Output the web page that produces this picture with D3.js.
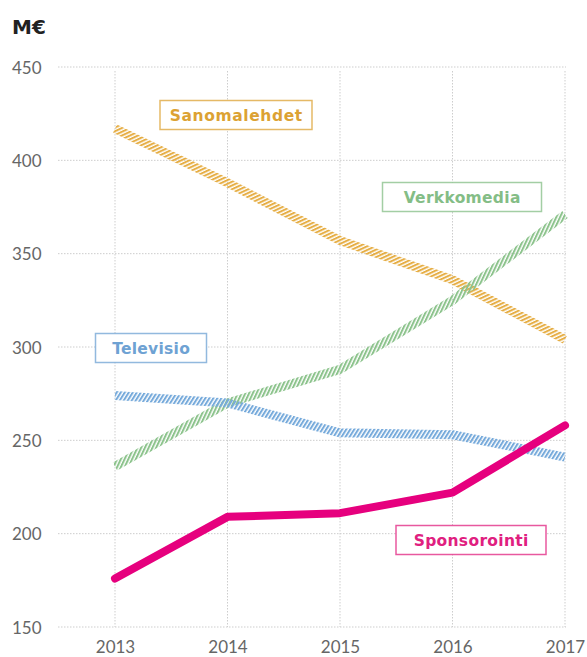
<!DOCTYPE html>
<html><head><meta charset="utf-8">
<script src="https://cdn.jsdelivr.net/npm/d3@7/dist/d3.min.js"></script>
<style>body{margin:0;background:#fff}svg{display:block}</style>
</head><body>
<script>
const years = [2013, 2014, 2015, 2016, 2017];
const yTicks = [150, 200, 250, 300, 350, 400, 450];
const sanomalehdet = [417, 388, 357, 336, 304];
const verkkomedia = [236, 270, 288, 325, 371];
const televisio = [274, 270, 254, 253, 241];
const sponsorointi = [176, 209, 211, 222, 258];
const seriesNames = ["Sanomalehdet", "Verkkomedia", "Televisio", "Sponsorointi"];
const unitLabel = "M€";

const W = 587, H = 657;
const svg = d3.select("body").append("svg").attr("width", W).attr("height", H);
const x = d3.scalePoint().domain(years).range([115, 565]);
const y = d3.scaleLinear().domain([150, 450]).range([627, 67]);
const FONT = "'DejaVu Sans', 'Open Sans', sans-serif";

const series = [
  {name: seriesNames[0], values: sanomalehdet, color: "#E6AE45", text: "#DCA233", angle: 65, hatch: true},
  {name: seriesNames[1], values: verkkomedia, color: "#8CC38C", text: "#84BD86", angle: 25, hatch: true},
  {name: seriesNames[2], values: televisio, color: "#76AADB", text: "#6EA2D3", angle: 32, hatch: true},
  {name: seriesNames[3], values: sponsorointi, color: "#E6007E", text: "#E0207F", hatch: false}
];

const defs = svg.append("defs");
series.filter(s => s.hatch).forEach((s, i) => {
  const p = defs.append("pattern").attr("id", "hatch" + i)
    .attr("patternUnits", "userSpaceOnUse").attr("width", 3.4).attr("height", 10)
    .attr("patternTransform", `rotate(${s.angle})`);
  p.append("rect").attr("x", 0).attr("y", 0).attr("width", 2).attr("height", 10).attr("fill", s.color);
  s.pid = "hatch" + i;
});

// grid
const grid = svg.append("g").attr("stroke", "#cdcdcd").attr("stroke-width", 1).attr("stroke-dasharray", "1.5,1.5");
grid.selectAll("line.h").data(yTicks).join("line").attr("class", "h")
  .attr("x1", 58).attr("x2", 566).attr("y1", d => y(d)).attr("y2", d => y(d));
grid.selectAll("line.v").data(years).join("line").attr("class", "v")
  .attr("x1", d => x(d)).attr("x2", d => x(d)).attr("y1", y(450) + 4).attr("y2", y(150));

// axis labels
const yAxis = d3.axisLeft(y).tickValues(yTicks).tickSize(0).tickPadding(0);
const ya = svg.append("g").attr("transform", "translate(12,0)").call(yAxis);
ya.select(".domain").remove();
ya.selectAll("text").attr("text-anchor", "start").attr("x", 0).attr("dy", "0.36em")
  .attr("font-family", "Lato, sans-serif").attr("font-size", 17).attr("fill", "#666");

const xAxis = d3.axisBottom(x).tickSize(0).tickPadding(0);
const xa = svg.append("g").attr("transform", "translate(0,640)").call(xAxis);
xa.select(".domain").remove();
xa.selectAll("text").attr("dy", "0.75em")
  .attr("font-family", "Lato, sans-serif").attr("font-size", 17).attr("fill", "#666");

svg.append("text").attr("x", 12).attr("y", 34).text(unitLabel)
  .attr("font-family", FONT).attr("font-weight", 700).attr("font-size", 20).attr("fill", "#222");

// lines
const line = d3.line().x((d, i) => x(years[i])).y(d => y(d));
series.forEach(s => {
  svg.append("path").datum(s.values).attr("d", line).attr("fill", "none")
    .attr("stroke", s.hatch ? `url(#${s.pid})` : s.color)
    .attr("stroke-width", s.hatch ? 9 : 8)
    .attr("stroke-linecap", s.hatch ? "butt" : "round")
    .attr("stroke-linejoin", "round");
});

// labels
const labelPos = [[236, 115], [462, 197], [151, 348], [471, 540]];
const labelW = [152, 159, 111, 150];
const textW = [133, 117, 78, 115];
series.forEach((s, i) => {
  const [cx, cy] = labelPos[i];
  const g = svg.append("g");
  g.append("rect").attr("x", cx - labelW[i] / 2).attr("y", cy - 14.5).attr("width", labelW[i]).attr("height", 29)
    .attr("fill", "#fff").attr("stroke", s.text).attr("stroke-opacity", 0.75).attr("stroke-width", 1.5);
  const t = g.append("text").attr("x", cx).attr("y", cy).attr("dy", "0.36em").attr("text-anchor", "middle")
    .attr("font-family", FONT).attr("font-weight", 700).attr("font-size", 15.5)
    .attr("fill", s.text).text(s.name);
  const n = s.name.length;
  const w0 = t.node().getComputedTextLength();
  const ls = (textW[i] - w0) / n;
  t.attr("letter-spacing", ls).attr("x", cx + ls / 2);
});
</script>
</body></html>
